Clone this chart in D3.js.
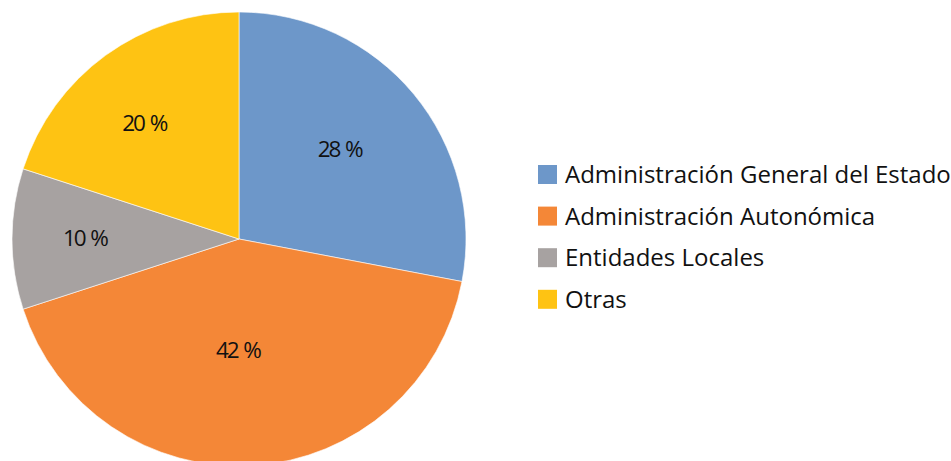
<!DOCTYPE html>
<html><head><meta charset="utf-8">
<script src="https://cdn.jsdelivr.net/npm/d3@7"></script>
<style>body{margin:0;background:#fff}svg{display:block}</style>
</head><body>
<script>
const categories = ["Administración General del Estado","Administración Autonómica","Entidades Locales","Otras"];
const values = [28, 42, 10, 20];
const labels = ["28 %","42 %","10 %","20 %"];
const colors = ["#6D97C9","#F48737","#A7A2A1","#FEC313"];
// label placement (layout): radius and small angle shift per slice
const labelRadius = [136, 111, 153, 149];
const labelShift = [-0.035, 0.063, 0.007, -0.052];

const W = 951, H = 461;
const cx = 239, cy = 239, R = 227;
const svg = d3.select("body").append("svg").attr("width", W).attr("height", H);
const g = svg.append("g").attr("transform", `translate(${cx},${cy})`);
const pie = d3.pie().sort(null).value(d => d)(values);
const arc = d3.arc().innerRadius(0).outerRadius(R);
g.selectAll("path").data(pie).join("path")
  .attr("d", arc).attr("fill", (d,i) => colors[i])
  .attr("stroke", "#fff").attr("stroke-width", 0.6);
const lab = g.selectAll("text").data(pie).join("text")
  .attr("transform", (d,i) => {
    const a = (d.startAngle + d.endAngle)/2 + labelShift[i];
    const p = d3.pointRadial(a, labelRadius[i]);
    return `translate(${p[0]},${p[1]})`;
  })
  .attr("text-anchor","middle").attr("dy","0.36em")
  .attr("font-family","'Open Sans', sans-serif").attr("font-size", 22.5)
  .attr("fill","#111");
lab.append("tspan").attr("letter-spacing", -2.2).text((d,i) => labels[i].split(" ")[0]);
lab.append("tspan").attr("dx", 6).text("%");

const lg = svg.append("g").attr("transform","translate(538,165)");
const rows = lg.selectAll("g").data(categories).join("g")
  .attr("transform", (d,i) => `translate(0,${i*41.6})`);
rows.append("rect").attr("width",19).attr("height",19).attr("fill",(d,i)=>colors[i]);
rows.append("text").attr("x",27).attr("y",9.5).attr("dy","0.36em")
  .attr("font-family","'Open Sans', sans-serif").attr("font-size",24)
  .attr("fill","#111").text(d=>d);
</script>
</body></html>
